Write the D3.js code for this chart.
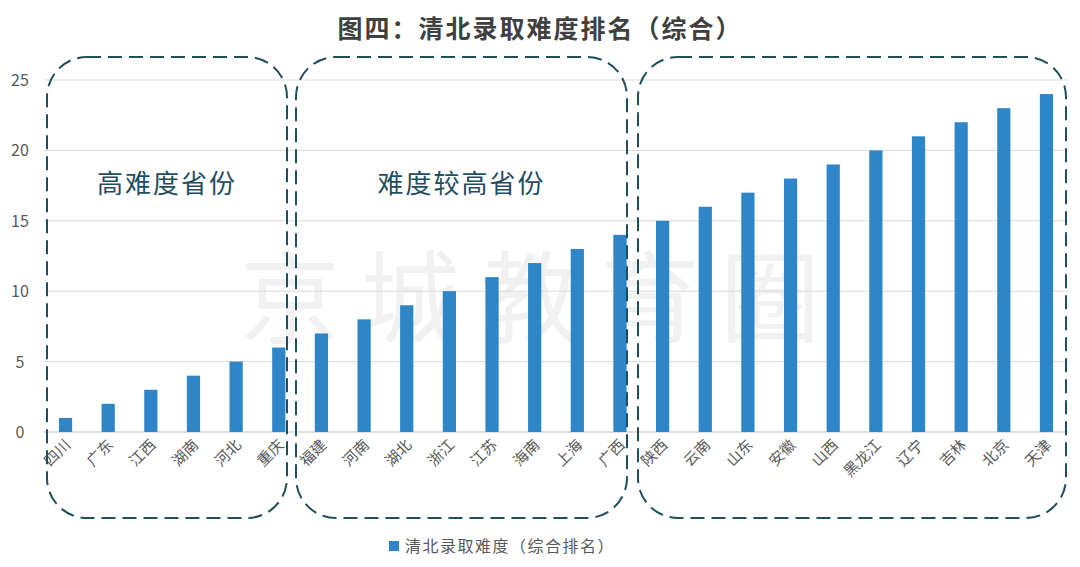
<!DOCTYPE html>
<html><head><meta charset="utf-8">
<script src="https://cdn.jsdelivr.net/npm/d3@7"></script>
<style>body{margin:0;background:#fff}text{font-family:"Noto Sans CJK SC","Noto Sans",sans-serif}</style>
</head><body><svg id="c" width="1080" height="567"></svg>
<script>
const categories=["四川","广东","江西","湖南","河北","重庆","福建","河南","湖北","浙江","江苏","海南","上海","广西","陕西","云南","山东","安徽","山西","黑龙江","辽宁","吉林","北京","天津"];
const values=[1,2,3,4,5,6,7,8,9,10,11,12,13,14,15,16,17,18,19,20,21,22,23,24];
const yTicks=[0,5,10,15,20,25];
const groups=[{label:"高难度省份",from:0,to:5},{label:"难度较高省份",from:6,to:13},{label:"",from:14,to:23}];
const svg=d3.select("#c");
const x=d3.scaleBand().domain(categories).range([44,1068]).paddingInner(0.69).paddingOuter(0.35);
const y=d3.scaleLinear().domain([0,25]).range([432,80]);
svg.append("text").attr("x",540).attr("y",38).attr("text-anchor","middle").attr("font-size",25).attr("font-weight","bold").attr("fill","#404040").attr("letter-spacing",2).text("图四：清北录取难度排名（综合）");
svg.append("text").attr("x",540).attr("y",335).attr("text-anchor","middle").attr("font-size",100).attr("fill","#000").attr("opacity",0.05).attr("letter-spacing",20).text("京城教育圈");
const g=svg.append("g");
yTicks.forEach(t=>{
 g.append("line").attr("x1",44).attr("x2",1068).attr("y1",y(t)).attr("y2",y(t)).attr("stroke",t===0?"#bfbfbf":"#d9d9d9");
 g.append("text").attr("x",20).attr("y",y(t)+6).attr("text-anchor","middle").attr("font-size",16).attr("fill","#595959").text(t);
});
g.selectAll("rect.b").data(values).join("rect").attr("class","b")
 .attr("x",(d,i)=>x(categories[i])).attr("width",x.bandwidth()).attr("y",d=>y(d)).attr("height",d=>y(0)-y(d)).attr("fill","#2e86c8");
categories.forEach(c=>{
 const cx=x(c)+x.bandwidth()/2+6;
 g.append("text").attr("transform",`translate(${cx},${446}) rotate(-45)`).attr("text-anchor","end").attr("font-size",15).attr("fill","#595959").text(c);
});
const boxes=[[47,287],[296,627],[638,1066]];
groups.forEach((gr,i)=>{
 const [x0,x1]=boxes[i];
 svg.append("rect").attr("x",x0).attr("y",57).attr("width",x1-x0).attr("height",461).attr("rx",40).attr("fill","none").attr("stroke","#1f4e5f").attr("stroke-width",2).attr("stroke-dasharray","14,7");
 if(gr.label) svg.append("text").attr("x",(x0+x1)/2).attr("y",193).attr("text-anchor","middle").attr("font-size",26).attr("fill","#1f4e5f").attr("letter-spacing",2).text(gr.label);
});
svg.append("rect").attr("x",389).attr("y",541).attr("width",10).attr("height",10).attr("fill","#2e86c8");
svg.append("text").attr("x",405).attr("y",552).attr("font-size",16).attr("fill","#595959").attr("letter-spacing",1.5).text("清北录取难度（综合排名）");
</script></body></html>
